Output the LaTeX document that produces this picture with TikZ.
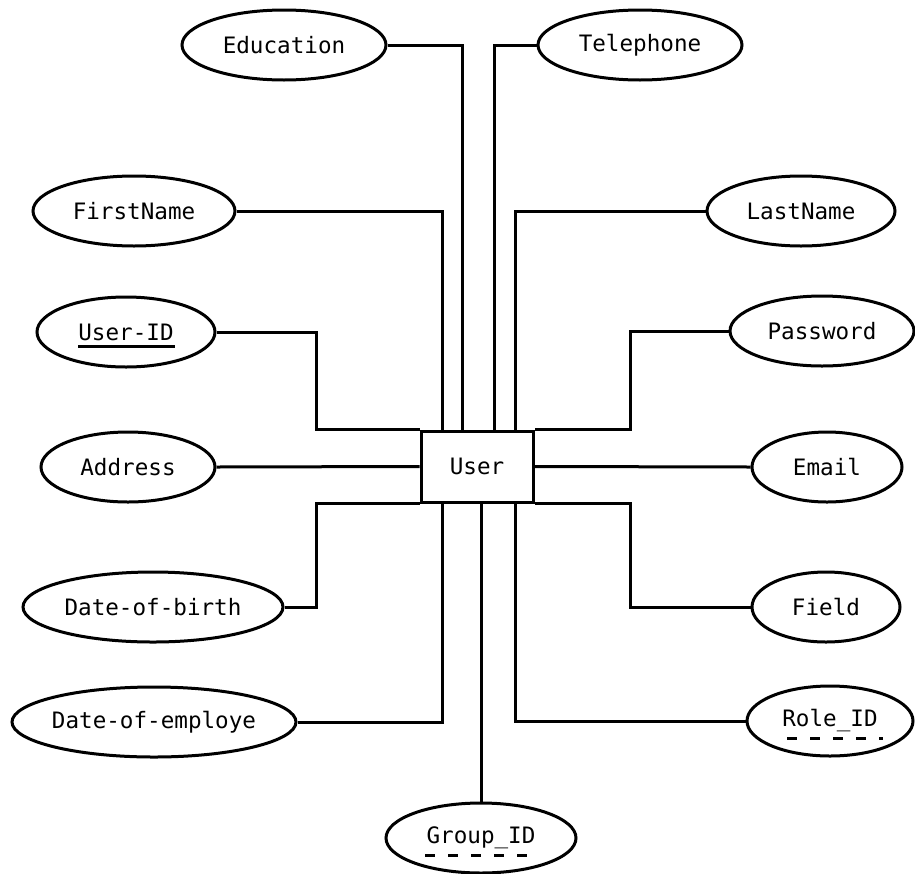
\documentclass[tikz,border=0pt]{standalone}
\usepackage{fontspec}
\newfontfamily\ermono{DejaVu Sans Mono}
\usetikzlibrary{shapes.geometric,calc}

\tikzset{
  er/.style={line width=3pt, line join=miter},
  attr/.style={draw, ellipse, line width=3pt, inner sep=0pt, minimum height=70pt,
    font=\ermono\fontsize{22.6}{26}\selectfont},
  entity/.style={draw, rectangle, line width=3pt, inner sep=0pt,
    minimum width=112pt, minimum height=71pt,
    font=\ermono\fontsize{22.6}{26}\selectfont},
  keyline/.style={line width=3pt},
  partkey/.style={line width=3pt, dash pattern=on 10pt off 13pt}
}
\newcommand{\lbl}[1]{\makebox[0pt]{#1}}

\begin{document}
\begin{tikzpicture}[x=1pt,y=-1pt]
\useasboundingbox (0,0) rectangle (915,873);

% central entity
\node[entity] (user) at (477,466.5) {\lbl{User}};

% attributes
\node[attr, minimum width=204pt] (edu)   at (284,45)  {\lbl{Education}};
\node[attr, minimum width=204pt] (tel)   at (640,45)  {\lbl{Telephone}};
\node[attr, minimum width=202pt] (fn)    at (134,211) {\lbl{FirstName}};
\node[attr, minimum width=188pt] (ln)    at (801,211) {\lbl{LastName}};
\node[attr, minimum width=178pt] (uid)   at (126,332) {\lbl{User-ID}};
\node[attr, minimum width=184pt] (pw)    at (822,331) {\lbl{Password}};
\node[attr, minimum width=174pt] (addr)  at (128,467) {\lbl{Address}};
\node[attr, minimum width=150pt] (email) at (827,467) {\lbl{Email}};
\node[attr, minimum width=260pt] (dob)   at (153,607) {\lbl{Date-of-birth}};
\node[attr, minimum width=148pt] (field) at (826,607) {\lbl{Field}};
\node[attr, minimum width=284pt] (doe)   at (154,722) {\lbl{Date-of-employe}};
\node[attr, minimum width=166pt] (role)  at (830,721) {\lbl{Role\_ID}};
\node[attr, minimum width=190pt] (gid)   at (481,838) {\lbl{Group\_ID}};

% key underlines
\draw[keyline] ($(uid.center)+(-48,14)$) -- ($(uid.center)+(49,14)$);
\draw[partkey] ($(role.center)+(-43,17)$) -- ($(role.center)+(53,17)$);
\draw[partkey] ($(gid.center)+(-56,17)$) -- ($(gid.center)+(52,17)$);

% connectors above the entity
\draw[er] (edu.east) -| ([xshift=-15pt]user.north);
\draw[er] (tel.west) -| ([xshift=17pt]user.north);
\draw[er] (fn.east)  -| ([xshift=-35pt]user.north);
\draw[er] (ln.west)  -| ([xshift=38pt]user.north);
\draw[er] (uid.east) -| ([xshift=-103pt]user.north west) -- (user.north west);
\draw[er] (pw.west)  -| ([xshift=96pt]user.north east) -- (user.north east);

% connectors level with the entity
\draw[er] (addr.east) -- (user.west);
\draw[er] (user.east) -- (email.west);

% connectors below the entity
\draw[er] (dob.east)   -| ([xshift=-103pt]user.south west) -- (user.south west);
\draw[er] (field.west) -| ([xshift=96pt]user.south east) -- (user.south east);
\draw[er] (doe.east)   -| ([xshift=-35pt]user.south);
\draw[er] (role.west)  -| ([xshift=38pt]user.south);
\draw[er] (gid.north)  -- (gid.north |- user.south);
\end{tikzpicture}
\end{document}
